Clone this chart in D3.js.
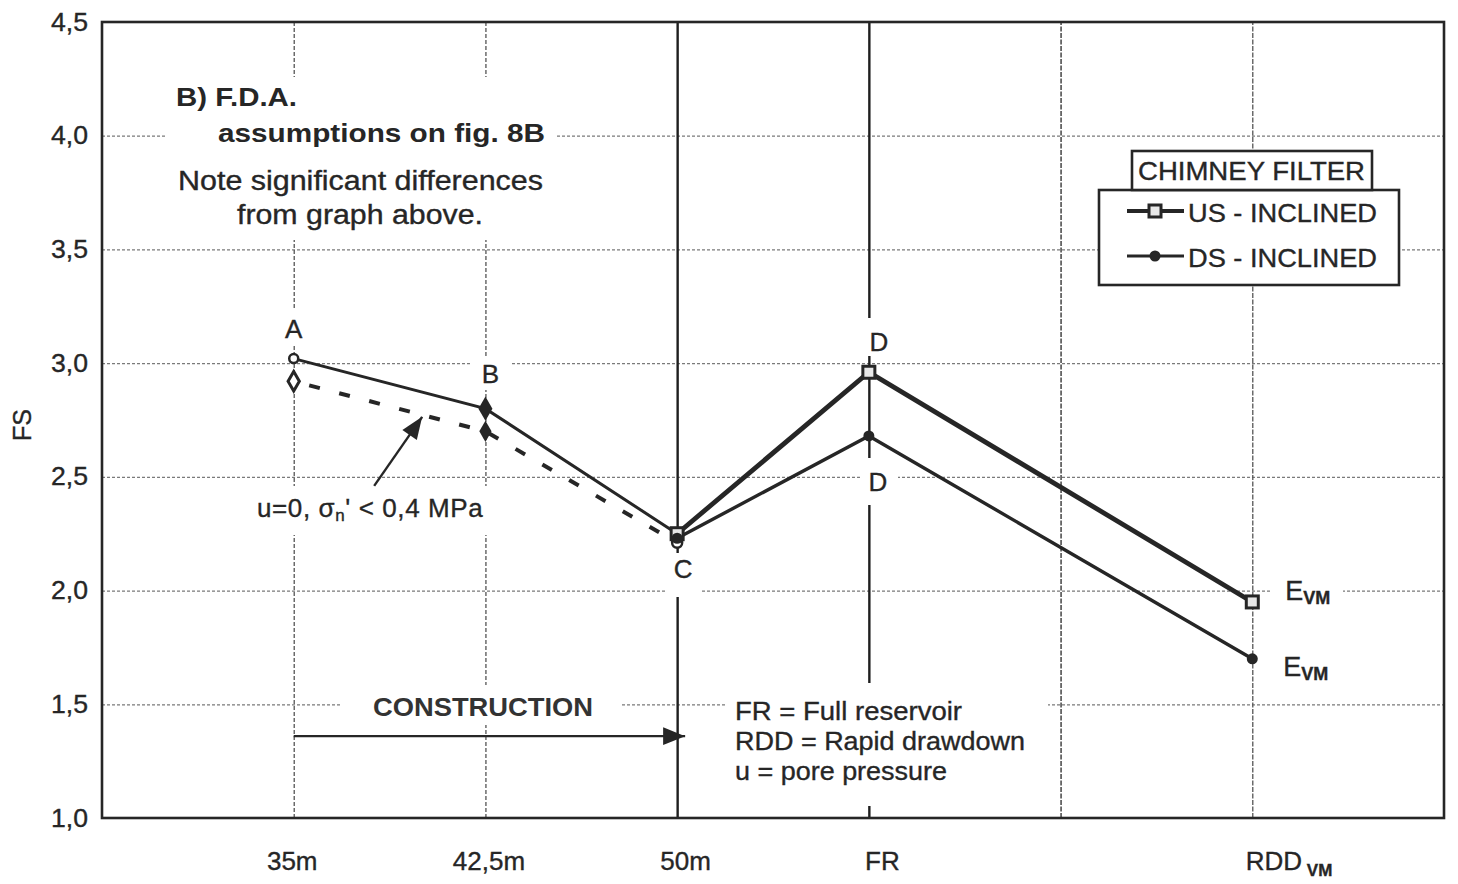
<!DOCTYPE html>
<html>
<head>
<meta charset="utf-8">
<script src="https://cdn.jsdelivr.net/npm/d3@7"></script>
<style>
  html, body { margin: 0; padding: 0; background: #fff; }
  svg { display: block; font-family: "Liberation Sans", Arial, sans-serif; }
</style>
</head>
<body>
<svg id="chart" width="1458" height="884"></svg>
<script>
// ---- data -------------------------------------------------------------
const categories = ["35m", "42,5m", "50m", "FR", "", "RDD"];
const yTicks = [1.0, 1.5, 2.0, 2.5, 3.0, 3.5, 4.0, 4.5];
const yTickLabels = ["1,0", "1,5", "2,0", "2,5", "3,0", "3,5", "4,0", "4,5"];

// construction stage (solid line A-B-C)
const constructionFS = [3.02, 2.80, 2.25, null, null, null];
// construction stage with u=0, sigma_n' < 0,4 MPa (dashed)
const noPorePressureFS = [2.92, 2.70, 2.21, null, null, null];
// chimney filter variants after construction
const usInclinedFS = [null, null, 2.25, 2.96, null, 1.95];
const dsInclinedFS = [null, null, 2.23, 2.68, null, 1.70];

const seriesNames = ["US - INCLINED", "DS - INCLINED"];
const noteLines = ["FR = Full reservoir", "RDD = Rapid drawdown", "u = pore pressure"];

// ---- layout -----------------------------------------------------------
const svg = d3.select("#chart");
const W = 1458, H = 884;
const plot = { left: 102, right: 1444, top: 22, bottom: 818 };
const ink = "#262626";

// text helper: fixed run length, slightly heavier strokes
function fit(sel, len) {
  return sel.attr("textLength", len).attr("lengthAdjust", "spacingAndGlyphs");
}
function heavy(sel) {
  return sel.attr("stroke", ink).attr("stroke-width", 0.35);
}

svg.append("rect").attr("width", W).attr("height", H).attr("fill", "#fff");

const x = d3.scalePoint()
  .domain(d3.range(categories.length))
  .range([plot.left, plot.right])
  .padding(1);
const y = d3.scaleLinear().domain([1, 4.5]).range([plot.bottom, plot.top]);

const pts = vals => vals
  .map((v, i) => (v == null ? null : { i, v, px: x(i), py: y(v) }))
  .filter(d => d);

// ---- grid -------------------------------------------------------------
svg.append("g")
  .attr("transform", `translate(${plot.left},0)`)
  .call(d3.axisLeft(y).tickValues(yTicks.slice(1, -1)).tickSize(-(plot.right - plot.left)).tickFormat(""))
  .call(g => g.select(".domain").remove())
  .call(g => g.selectAll("line")
    .attr("stroke", "#7a7a7a").attr("stroke-width", 1.2).attr("stroke-dasharray", "3,2"));

// vertical lines per category: stage boundaries (50m, FR) drawn solid
const vStyle = [
  { w: 1.3, c: "#555", dash: "4,2" },
  { w: 1.3, c: "#555", dash: "4,2" },
  { w: 2.4, c: "#1e1e1e", dash: null },
  { w: 2.4, c: "#1e1e1e", dash: null },
  { w: 1.5, c: "#444", dash: "5,1.5" },
  { w: 1.3, c: "#555", dash: "5,1.5" }
];
svg.append("g")
  .attr("transform", `translate(0,${plot.bottom})`)
  .call(d3.axisBottom(x).tickSize(-(plot.bottom - plot.top)).tickFormat(""))
  .call(g => g.select(".domain").remove())
  .call(g => g.selectAll(".tick line")
    .attr("stroke", (d) => vStyle[d].c)
    .attr("stroke-width", (d) => vStyle[d].w)
    .attr("stroke-dasharray", (d) => vStyle[d].dash));

// white backing behind text blocks (they interrupt the grid)
const masks = [
  [165, 77, 555, 240],   // title block
  [250, 486, 497, 535],  // u=0 note
  [340, 685, 622, 725],  // CONSTRUCTION
  [727, 683, 1048, 806], // abbreviations
  [274, 310, 312, 346],  // A
  [470, 358, 512, 390],  // B
  [667, 553, 700, 597],  // C
  [864, 318, 898, 356],  // D upper
  [862, 458, 898, 505],  // D lower
  [1272, 575, 1343, 610] // E upper
];
svg.append("g").selectAll("rect").data(masks).join("rect")
  .attr("x", d => d[0]).attr("y", d => d[1])
  .attr("width", d => d[2] - d[0]).attr("height", d => d[3] - d[1])
  .attr("fill", "#fff");

// ---- axes labels ------------------------------------------------------
svg.append("g")
  .attr("transform", `translate(${plot.left},0)`)
  .call(d3.axisLeft(y).tickValues(yTicks).tickSize(0).tickPadding(14)
    .tickFormat((d, i) => yTickLabels[i]))
  .call(g => g.select(".domain").remove())
  .call(g => g.selectAll("text")
    .attr("font-size", 25).attr("fill", ink)
    .attr("font-family", "'Liberation Sans', Arial, sans-serif")
    .call(fit, 37).call(heavy));

const xShift = [-2, 3, 8, 13, 0, -7];
const xAxis = svg.append("g")
  .attr("transform", `translate(0,${plot.bottom})`)
  .call(d3.axisBottom(x).tickSize(0).tickPadding(34).tickFormat(i => categories[i]))
  .call(g => g.select(".domain").remove());
xAxis.selectAll("text")
  .attr("font-size", 26).attr("fill", ink)
  .attr("font-family", "'Liberation Sans', Arial, sans-serif")
  .attr("dx", d => xShift[d])
  .call(heavy);
// RDD with VM subscript
xAxis.selectAll(".tick").filter(d => d === 5).select("text")
  .attr("text-anchor", "start")
  .call(t => t.append("tspan").text(" VM").attr("font-size", 17).attr("font-weight", "bold").attr("dy", 6));

svg.append("text")
  .attr("transform", "translate(31,425) rotate(-90)")
  .attr("text-anchor", "middle")
  .attr("font-size", 25).attr("fill", ink)
  .call(heavy)
  .text("FS");

// ---- series -----------------------------------------------------------
const line = d3.line().x(d => d.px).y(d => d.py);

const cPts = pts(constructionFS);
const nPts = pts(noPorePressureFS);
const usPts = pts(usInclinedFS);
const dsPts = pts(dsInclinedFS);

svg.append("path").attr("d", line(nPts)).attr("fill", "none")
  .attr("stroke", ink).attr("stroke-width", 4).attr("stroke-dasharray", "11,20")
  .attr("stroke-dashoffset", -16);
svg.append("path").attr("d", line(cPts)).attr("fill", "none")
  .attr("stroke", ink).attr("stroke-width", 3);
svg.append("path").attr("d", line(dsPts)).attr("fill", "none")
  .attr("stroke", ink).attr("stroke-width", 3.4);
svg.append("path").attr("d", line(usPts)).attr("fill", "none")
  .attr("stroke", ink).attr("stroke-width", 4.8);

// markers
const sym = (type, size) => d3.symbol().type(type).size(size)();
// dashed series: open diamond, filled diamond, open circle
svg.append("path").attr("d", sym(d3.symbolDiamond, 110))
  .attr("transform", `translate(${nPts[0].px},${nPts[0].py})`)
  .attr("fill", "#fff").attr("stroke", ink).attr("stroke-width", 3);
svg.append("path").attr("d", sym(d3.symbolDiamond, 130))
  .attr("transform", `translate(${nPts[1].px},${nPts[1].py})`)
  .attr("fill", ink);
svg.append("circle").attr("cx", nPts[2].px).attr("cy", nPts[2].py).attr("r", 5)
  .attr("fill", "#fff").attr("stroke", ink).attr("stroke-width", 2.5);
// solid construction series
svg.append("circle").attr("cx", cPts[0].px).attr("cy", cPts[0].py).attr("r", 4.5)
  .attr("fill", "#fff").attr("stroke", ink).attr("stroke-width", 2.5);
svg.append("path").attr("d", sym(d3.symbolDiamond, 170))
  .attr("transform", `translate(${cPts[1].px},${cPts[1].py})`)
  .attr("fill", ink);

svg.append("g").selectAll("rect").data(usPts).join("rect")
  .attr("x", d => d.px - 6).attr("y", d => d.py - 6)
  .attr("width", 12).attr("height", 12)
  .attr("fill", "#e8e8e8").attr("stroke", ink).attr("stroke-width", 3);
svg.append("g").selectAll("circle").data(dsPts).join("circle")
  .attr("cx", d => d.px).attr("cy", d => d.py).attr("r", 5.5)
  .attr("fill", ink);

// ---- point labels -----------------------------------------------------
const pointLabels = [
  { t: "A", p: cPts[0], dx: 0, dy: -21 },
  { t: "B", p: cPts[1], dx: 5, dy: -26 },
  { t: "C", p: usPts[0], dx: 6, dy: 44 },
  { t: "D", p: usPts[1], dx: 10, dy: -21 },
  { t: "D", p: dsPts[1], dx: 9, dy: 55 }
];
svg.append("g").selectAll("text").data(pointLabels).join("text")
  .attr("x", d => d.p.px + d.dx).attr("y", d => d.p.py + d.dy)
  .attr("text-anchor", "middle").attr("font-size", 26).attr("fill", ink)
  .call(heavy)
  .text(d => d.t);

const eLabels = [
  { p: usPts[2], dx: 33, dy: -2 },
  { p: dsPts[2], dx: 31, dy: 17 }
];
eLabels.forEach(d => {
  const t = svg.append("text")
    .attr("x", d.p.px + d.dx).attr("y", d.p.py + d.dy)
    .attr("font-size", 27).attr("fill", ink).call(heavy).text("E");
  t.append("tspan").text("VM").attr("font-size", 18).attr("font-weight", "bold").attr("dy", 4);
});

// ---- annotations ------------------------------------------------------
const defs = svg.append("defs");
defs.append("marker").attr("id", "headBig")
  .attr("viewBox", "0 0 10 10").attr("refX", 10).attr("refY", 5)
  .attr("markerWidth", 34).attr("markerHeight", 22)
  .attr("markerUnits", "userSpaceOnUse")
  .attr("orient", "auto")
  .append("path").attr("d", "M0,1 L10,5 L0,9 Z").attr("fill", ink);

// pointer to the dashed line
const tipT = 0.67;
const tip = [nPts[0].px + (nPts[1].px - nPts[0].px) * tipT, nPts[0].py + (nPts[1].py - nPts[0].py) * tipT + 2];
svg.append("line")
  .attr("x1", tip[0] - 48).attr("y1", tip[1] + 69)
  .attr("x2", tip[0]).attr("y2", tip[1])
  .attr("stroke", ink).attr("stroke-width", 2.4)
  .attr("marker-end", "url(#headBig)");

const sigma = svg.append("text").attr("x", 257).attr("y", 517)
  .attr("font-size", 26).attr("fill", ink).attr("letter-spacing", 0.6).call(heavy).text("u=0, σ");
sigma.append("tspan").text("n").attr("font-size", 17).attr("dy", 4);
sigma.append("tspan").text("' < 0,4 MPa").attr("dy", -4);

// construction span arrow
const arrowY = y(1.36);
svg.append("line")
  .attr("x1", x(0)).attr("y1", arrowY)
  .attr("x2", x(2) + 8).attr("y2", arrowY)
  .attr("stroke", ink).attr("stroke-width", 2.2)
  .attr("marker-end", "url(#headBig)");
svg.append("text").attr("x", 373).attr("y", 716)
  .attr("font-size", 25).attr("font-weight", "bold")
  .attr("fill", "#333").call(fit, 220).text("CONSTRUCTION");

const noteWidths = [227, 290, 212];
svg.append("g").selectAll("text").data(noteLines).join("text")
  .attr("x", 735).attr("y", (d, i) => 720 + i * 30)
  .attr("font-size", 26).attr("fill", ink)
  .attr("textLength", (d, i) => noteWidths[i]).attr("lengthAdjust", "spacingAndGlyphs")
  .call(heavy)
  .text(d => d);

// title block
const title = svg.append("g").attr("fill", ink);
title.append("text").attr("x", 176).attr("y", 106).attr("font-size", 26).attr("font-weight", "bold")
  .call(fit, 121).text("B) F.D.A.");
title.append("text").attr("x", 218).attr("y", 142).attr("font-size", 26).attr("font-weight", "bold")
  .call(fit, 327).text("assumptions on fig. 8B");
title.append("text").attr("x", 178).attr("y", 190).attr("font-size", 27)
  .call(fit, 365).call(heavy).text("Note significant differences");
title.append("text").attr("x", 237).attr("y", 224).attr("font-size", 27)
  .call(fit, 246).call(heavy).text("from graph above.");

// ---- legend -----------------------------------------------------------
const lg = svg.append("g");
lg.append("rect").attr("x", 1099).attr("y", 190).attr("width", 300).attr("height", 95)
  .attr("fill", "#fff").attr("stroke", ink).attr("stroke-width", 2.6);
lg.append("rect").attr("x", 1132).attr("y", 151).attr("width", 240).attr("height", 39)
  .attr("fill", "#fff").attr("stroke", ink).attr("stroke-width", 2.6);
lg.append("text").attr("x", 1138).attr("y", 180)
  .attr("font-size", 26).attr("fill", ink).call(fit, 227).call(heavy).text("CHIMNEY FILTER");

const rows = lg.selectAll(".row").data(seriesNames).join("g")
  .attr("transform", (d, i) => `translate(0,${211 + i * 45})`);
rows.append("line").attr("x1", 1127).attr("x2", 1184).attr("y1", 0).attr("y2", 0)
  .attr("stroke", ink).attr("stroke-width", (d, i) => (i === 0 ? 4 : 3.2));
rows.filter((d, i) => i === 0).append("rect")
  .attr("x", 1149).attr("y", -6).attr("width", 12).attr("height", 12)
  .attr("fill", "#e8e8e8").attr("stroke", ink).attr("stroke-width", 3);
rows.filter((d, i) => i === 1).append("circle")
  .attr("cx", 1155).attr("cy", 0).attr("r", 5.5).attr("fill", ink);
rows.append("text").attr("x", 1188).attr("y", 11)
  .attr("font-size", 26).attr("fill", ink).call(fit, 189).call(heavy).text(d => d);

// ---- frame ------------------------------------------------------------
svg.append("rect")
  .attr("x", plot.left).attr("y", plot.top)
  .attr("width", plot.right - plot.left).attr("height", plot.bottom - plot.top)
  .attr("fill", "none").attr("stroke", ink).attr("stroke-width", 2.6);
</script>
</body>
</html>
